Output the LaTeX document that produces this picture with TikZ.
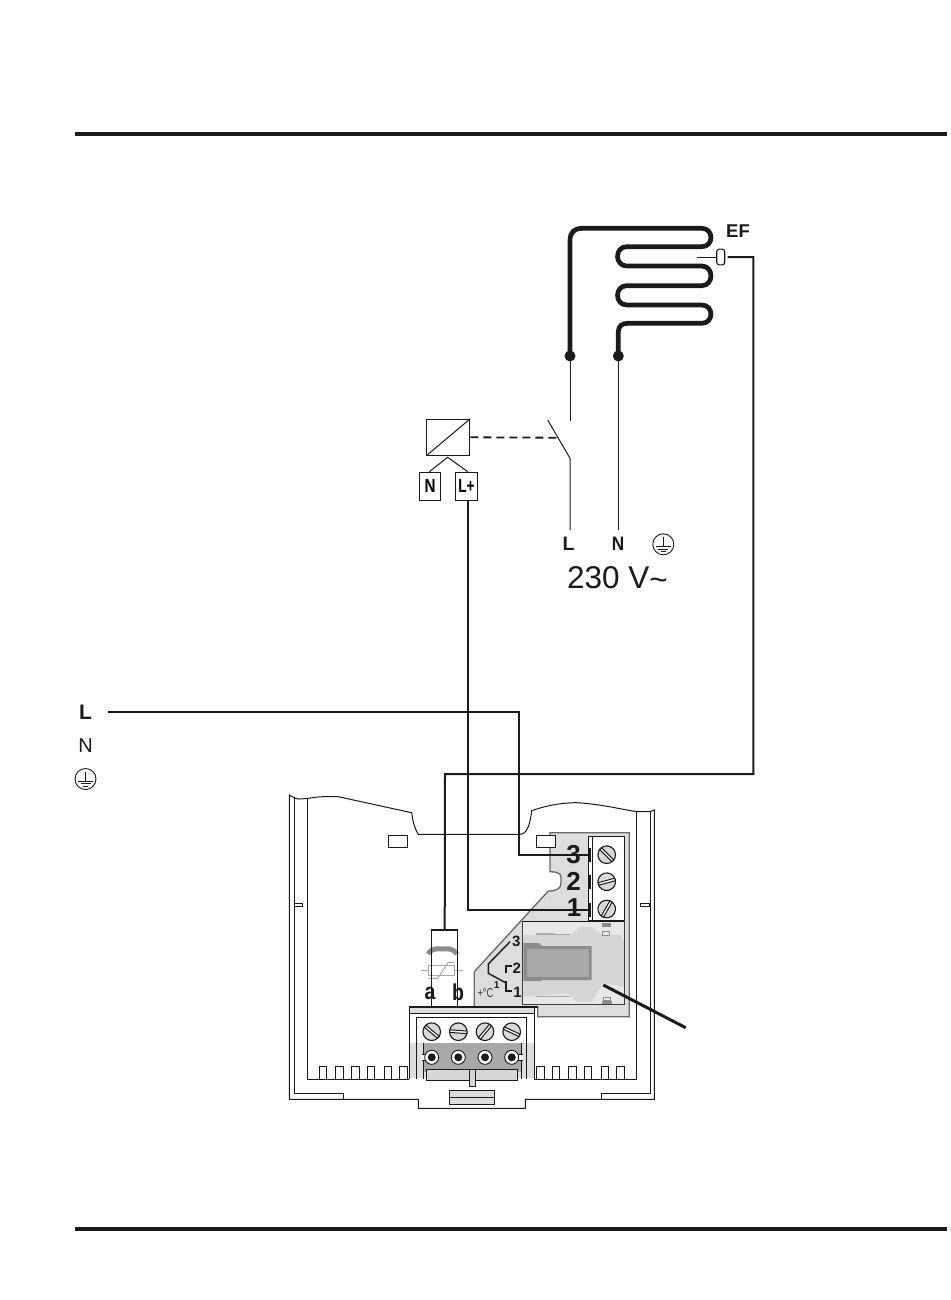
\documentclass[tikz,border=0pt]{standalone}
\usepackage{fontspec}
\setmainfont{Liberation Sans}
\usetikzlibrary{calc}
\definecolor{bodygray}{HTML}{DDDDDD}
\definecolor{relayfill}{HTML}{E8E8E8}
\definecolor{blob}{HTML}{D6D6D6}
\definecolor{coilgray}{HTML}{A8A8A8}
\definecolor{coildark}{HTML}{8C8C8C}
\definecolor{ink}{HTML}{1A1A1A}
\tikzset{
  thin line/.style={draw=ink,line width=1pt},
  wire/.style={draw=ink,line width=2pt,line join=miter},
  coil/.style={draw=ink,line width=4.7pt,line cap=round,line join=round},
  part/.style={draw=ink,line width=1pt,fill=white},
  numlabel/.style={font=\bfseries\fontsize{26}{26}\selectfont,text=ink,inner sep=0pt},
  smalllabel/.style={font=\bfseries\fontsize{15}{15}\selectfont,text=ink,inner sep=0pt},
  termbox/.style={draw=ink,line width=1.1pt,fill=white,inner sep=0pt,font=\bfseries\fontsize{19}{19}\selectfont},
  earth/.style={draw=ink,line width=0.9pt},
  screwpic/.pic={
    \fill[white!85!black] (0,0) circle (8.8);
    \draw[ink,line width=1.1pt] (0,0) circle (8.8);
    \draw[ink,line width=1pt,fill=white] (-8.6,-1.3) rectangle (8.6,1.3);
  },
  earthpic/.pic={
    \draw[earth] (0,0) circle (10.5);
    \draw[earth] (0,-7) -- (0,2);
    \draw[earth] (-7.5,2) -- (7.5,2);
    \draw[earth] (-5,4.8) -- (5,4.8);
    \draw[earth] (-2.2,7.4) -- (2.2,7.4);
  }
}
\begin{document}
\begin{tikzpicture}[x=1pt,y=-1pt]
\useasboundingbox (0,0) rectangle (950,1300);
\fill[white] (0,0) rectangle (950,1300);
% page rules
\coordinate (r1a) at (75,134); \coordinate (r1b) at (947,134);
\coordinate (r2a) at (75,1229); \coordinate (r2b) at (947,1229);
\draw[ink,line width=3.2pt] (r1a) -- (r1b);
\draw[ink,line width=3.2pt] (r2a) -- (r2b);

% device housing
\draw[thin line] (289.3,795) .. controls (293,797) and (294,798) .. (298,799)
  .. controls (308,799) and (315,796.7) .. (323.3,796.7) -- (338.3,796.7) -- (411.7,812.7)
  .. controls (412.5,820) and (414,827) .. (418.3,834.3) -- (520,834.3)
  .. controls (527,834) and (530,825) .. (531.7,810.7)
  .. controls (545,806) and (560,802.7) .. (576.7,802.7)
  .. controls (600,804) and (620,809) .. (636.7,811.7) -- (650,811.7) -- (654.3,810)
  -- (654.3,1099.3) -- (525.3,1099.3) -- (525.3,1108.3) -- (418.3,1108.3) -- (418.3,1099.3) -- (289.3,1099.3) -- cycle;
\draw[thin line] (294.3,797) -- (294.3,1093.3) -- (343.3,1093.3) -- (343.3,1099.3);
\draw[thin line] (650,811.7) -- (650,1093.3) -- (601.7,1093.3) -- (601.7,1099.3);
\draw[thin line] (307.3,799) -- (307.3,1079) -- (409.3,1079);
\draw[thin line] (636.7,811.7) -- (636.7,1079) -- (534.3,1079);
\draw[part] (294.3,903.3) rectangle (302.7,906.7);
\draw[part] (640.3,903.3) rectangle (649.7,906.7);
\foreach \a/\b in {319.3/326.7,335.3/343.3,351.3/359.3,367.3/374.7,384.3/391.7,399.3/407.7,536.3/544.3,552.3/559.7,568.3/576.3,584.3/591.7,601.3/608.7,616.7/624.7}
  \draw[part] (\a,1066) rectangle (\b,1079);
\draw[part] (388.3,835.7) rectangle (407.7,847.7);

% gray carrier
\draw[draw=coildark!75!black,line width=1.3pt,fill=bodygray] (550,832.7) -- (629.3,832.7) -- (629.3,1016.7) -- (537.7,1016.7) -- (537.7,1006.7) -- (474.3,1006.7) -- (474.3,971.7) -- (548.3,891)
  .. controls (556,891) and (561,889) .. (561,883) -- (561,877) .. controls (561,873) and (556,871.7) .. (550,871.7) -- cycle;
\draw[part] (536.3,835.7) rectangle (555.7,847.7);

% upper terminal block
\node[draw=ink,line width=1pt,fill=white,minimum width=35.7pt,minimum height=84pt,inner sep=0pt] (tb) at (606.2,878) {};
\draw[thin line] (592.7,836) -- (592.7,920);
\coordinate (t3) at (590,855); \coordinate (t2) at (590,881.5); \coordinate (t1) at (590,910);
\foreach \q in {t3,t2,t1} \draw[ink,line width=2.4pt] ($(\q)+(0,-7)$) -- ($(\q)+(0,7)$);
\pic[rotate=-45] at (606.7,854.7) {screwpic};
\pic[rotate=15] at (606.7,881.7) {screwpic};
\pic[rotate=60] at (606.7,909) {screwpic};
\node[numlabel] (n3) at (573.5,855) {3};
\node[numlabel] (n2) at (573.5,881.5) {2};
\node[numlabel] (n1) at (574,908) {1};

% relay
\draw[draw=ink,line width=1pt,fill=relayfill] (522.7,921.7) rectangle (624.3,1004.3);
\fill[blob] (523.3,935) -- (570,935) -- (580,926.7) -- (591.7,927.3) -- (603.3,935) -- (621.7,935) -- (624,943) -- (624,986.7) -- (603.3,983.3) -- (591.7,1001.7) -- (576.7,1001.7) -- (568.3,993.3) -- (523.3,996.7) -- cycle;
\fill[coildark] (523.3,943) -- (539,943) -- (542,946) -- (591.7,946) -- (591.7,980) -- (542,980) -- (541,981) -- (523.3,981) -- cycle;
\fill[coilgray] (527,948.7) rectangle (589.2,977);
\fill[coildark!70!white] (536,932.7) rectangle (555,935);
\draw[coilgray,line width=0.7pt] (555,934.5) -- (570,934.5);
\draw[coilgray,line width=0.7pt] (536,996) -- (570,996);
\draw[ink!85!white,line width=1pt] (522.7,921.7) rectangle (624.3,1004.3);
\draw[ink,line width=1.8pt] (522.7,921.5) -- (624.3,921.5);
\fill[coildark] (602,923) rectangle (610.5,927);
\draw[coildark,line width=0.7pt,fill=relayfill] (602.7,931.5) rectangle (609.3,935);
\draw[coildark,line width=0.7pt,fill=relayfill] (603,997) rectangle (610,1000);
\fill[coildark] (601.7,1000.5) rectangle (611.7,1004);

% thermostat marks
\draw[ink,line width=1.4pt] (510,941.7) -- (488.3,964) -- (488.3,973.3) -- (506.7,983.3);
\draw[ink,line width=1.6pt] (506,973.3) -- (506,966) -- (511.5,966);
\draw[ink,line width=1.6pt] (506,980.7) -- (506,990.7) -- (511.5,990.7);
\node[smalllabel] (s3) at (516.3,941) {3};
\node[smalllabel] (s2) at (516.7,968) {2};
\node[smalllabel] (s1) at (517.5,992.5) {1};
\node[font=\bfseries\fontsize{10}{10}\selectfont,text=ink,inner sep=0pt] (s1b) at (496.7,985) {1};
\node[font=\fontsize{13}{13}\selectfont,text=ink!85!white,inner sep=0pt] (stemp) at (485.5,993) {\scalebox{0.72}[1]{+°C}};

% lower terminal block
\draw[thin line,fill=bodygray] (409.3,1006.7) rectangle (534.3,1013.3);
\draw[ink,line width=2pt] (409.3,1006.7) -- (537.7,1006.7);
\draw[thin line,fill=white] (409.3,1013.3) rectangle (534.3,1043.3);
\draw[thin line,fill=white] (416.7,1017.3) rectangle (526.7,1043.3);
\fill[bodygray] (409.3,1043.3) rectangle (534.3,1078.3);
\fill[coilgray] (423,1043.3) rectangle (521,1072);
\draw[thin line] (409.3,1043.3) -- (409.3,1079) (534.3,1043.3) -- (534.3,1079);
\draw[thin line] (416.7,1043.3) -- (416.7,1079) (423,1043.3) -- (423,1079) (526.7,1043.3) -- (526.7,1079) (521,1043.3) -- (521,1079);
\draw[ink,line width=0.8pt,fill=white] (421.5,1054.3) -- (430,1054.3) -- (430,1060.3) -- (421.5,1060.3);
\draw[ink,line width=0.8pt,fill=white] (522.5,1054.3) -- (514,1054.3) -- (514,1060.3) -- (522.5,1060.3);
\fill[white] (421,1054.7) rectangle (426,1059.9);
\fill[white] (518,1054.7) rectangle (523,1059.9);
\foreach \x in {431.7,458.3,485,511.7} {
  \draw[ink,line width=0.9pt,fill=white] (\x,1057.3) circle (7);
  \fill[ink] (\x,1057.3) circle (4);
}
\pic[rotate=-40] at (431.7,1031.7) {screwpic};
\pic[rotate=-4] at (458.3,1031.7) {screwpic};
\pic[rotate=50] at (485,1031.7) {screwpic};
\pic[rotate=-25] at (511.7,1031.7) {screwpic};
\draw[thin line,fill=blob] (426,1069.3) rectangle (517.3,1080.3);
\draw[thin line,fill=blob] (469.3,1069.3) rectangle (475.7,1086.7);
\draw[thin line,fill=bodygray] (449.3,1090.3) rectangle (494.7,1104.3);
\draw[thin line] (449.3,1097.3) -- (494.7,1097.3);

% varistor
\draw[coildark,line width=5pt] (428,954) .. controls (432,947) and (440,949) .. (442,949) .. controls (446,949) and (452,947) .. (457,954);
\draw[coilgray,line width=1pt] (428.3,965.3) rectangle (454.7,975.3);
\draw[coilgray,line width=1pt] (421,970.3) -- (428.3,970.3) (454.7,970.3) -- (463.3,970.3);
\draw[coilgray,line width=1pt] (428.3,978.3) -- (437.7,978.3) -- (448.3,962.3) -- (454.5,962.3);
\node[draw=ink,line width=1.5pt,minimum width=26pt,minimum height=76.7pt,inner sep=0pt] (var) at (444.7,968.3) {};
\node[font=\bfseries\fontsize{23}{23}\selectfont,text=ink,inner sep=0pt] (la) at (430,993) {\scalebox{0.85}[1]{a}};
\node[font=\bfseries\fontsize{23}{23}\selectfont,text=ink,inner sep=0pt] (lb) at (458,992) {\scalebox{0.85}[1]{b}};

% heater coil
\coordinate (hl) at (570,356);
\coordinate (hn) at (618.3,356);
\draw[coil] (hl) -- (570,241) .. controls (570,232) and (574,228.3) .. (583,228.3) -- (701.7,228.3)
  .. controls (714,228.3) and (714,246.7) .. (701.7,246.7) -- (626.7,246.7)
  .. controls (614.5,246.7) and (614.5,266) .. (626.7,266) -- (701.7,266)
  .. controls (714,266) and (714,285.7) .. (701.7,285.7) -- (626.7,285.7)
  .. controls (614.5,285.7) and (614.5,305) .. (626.7,305) -- (701.7,305)
  .. controls (714,305) and (714,323.3) .. (701.7,323.3) -- (628,323.3)
  .. controls (622,323.3) and (618.3,326) .. (618.3,332) -- (hn);
\fill[ink] (hl) circle (5.5);
\fill[ink] (hn) circle (5.5);
\node[font=\bfseries\fontsize{18.5}{18.5}\selectfont,text=ink,inner sep=0pt] (ef) at (738,231.5) {EF};
\node[draw=ink,line width=1.1pt,fill=white,rounded corners=2.5pt,minimum width=8pt,minimum height=15.7pt,inner sep=0pt] (sensor) at (720.7,257) {};
\coordinate (probe) at (696.7,257);
\draw[thin line] (probe) -- (sensor.west);

% switch and supply lines
\coordinate (swtop) at (570,420.7);
\coordinate (swleft) at (547.7,420);
\coordinate (swbot) at (570,458.3);
\coordinate (lend) at (570,530);
\coordinate (nend) at (618.3,530);
\draw[thin line] (hl) -- (swtop);
\draw[thin line] (swleft) -- (swbot) -- (lend);
\draw[thin line] (hn) -- (nend);
\node[font=\bfseries\fontsize{19.5}{19.5}\selectfont,text=ink,inner sep=0pt] (sl) at (568.5,544) {L};
\node[font=\bfseries\fontsize{19.5}{19.5}\selectfont,text=ink,inner sep=0pt] (sn) at (618,544) {\scalebox{0.88}[1]{N}};
\pic at (663.3,544.3) {earthpic};
\node[font=\fontsize{31.5}{31.5}\selectfont,text=ink,inner sep=0pt] (volt) at (617.5,578.5) {230 V\raisebox{-2pt}{\char"007E}};

% converter
\node[draw=ink,line width=1.1pt,fill=white,minimum width=43pt,minimum height=36pt,inner sep=0pt] (conv) at (448.2,437.3) {};
\draw[thin line] (conv.south west) -- (conv.north east);
\coordinate (swdash) at (556.7,437.7);
\draw[ink,line width=1.8pt,dash pattern=on 8pt off 5pt] (conv.east) -- (swdash);
\node[termbox,minimum width=21.4pt,minimum height=28pt] (bn) at (430,486.3) {\scalebox{0.8}[1]{N}};
\node[termbox,minimum width=22.4pt,minimum height=28pt] (bl) at (466.5,486.3) {\scalebox{0.72}[1]{L+}};
\coordinate (tent) at (447.7,457.3);
\draw[thin line] (429.3,471.7) -- (tent) -- (467.7,471.7);

% wires
\coordinate (lstart) at (108,712);
\draw[wire] (lstart) -- (519,712) -- (519,855) -- (t3);
\draw[wire] (bl.south -| 468,500) -- (468,910) -- (t1);
\draw[wire] (var.north) -- (445,774) -- (753.3,774) -- (753.3,257) -- (727.5,257);
\draw[ink,line width=3pt] (603.3,985) -- (685.7,1027.7);

% left legend
\node[inner sep=0pt,font=\fontsize{21}{21}\selectfont\bfseries,text=ink] (ll) at (85.5,712.5) {L};
\node[inner sep=0pt,font=\fontsize{20}{20}\selectfont,text=ink] (ln) at (85.5,745.5) {N};
\pic at (85.5,779) {earthpic};
\end{tikzpicture}
\end{document}
